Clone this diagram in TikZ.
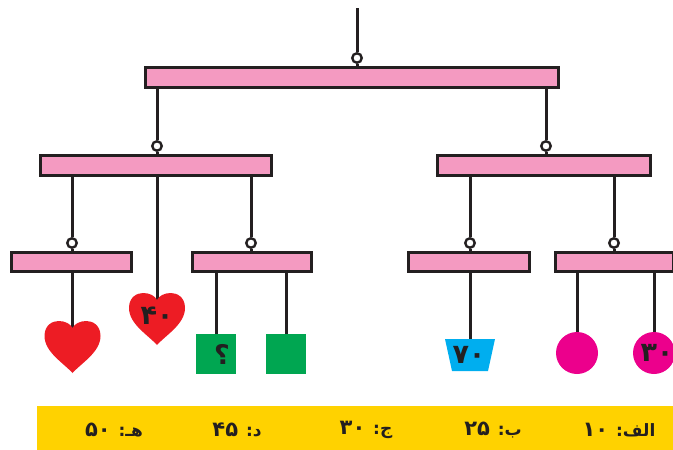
\documentclass[tikz,border=0pt]{standalone}
\usepackage{fontspec}
\TeXXeTstate=1
\newfontfamily\arabicfont[Script=Arabic]{DejaVu Sans}
\definecolor{ink}{HTML}{231F20}
\definecolor{barpink}{HTML}{F49AC1}
\definecolor{heartred}{HTML}{ED1C24}
\definecolor{boxgreen}{HTML}{00A651}
\definecolor{trapblue}{HTML}{00AEEF}
\definecolor{ballpink}{HTML}{EC008C}
\definecolor{stripyellow}{HTML}{FFD200}
\newcommand\bigdig[1]{{\fontsize{21}{24}\selectfont #1}}
\tikzset{
  heartpic/.pic={\fill[heartred] (0,45) .. controls (-9,35) and (-28,24) .. (-28,8)
      .. controls (-28,-3) and (-20,-7) .. (-14,-7)
      .. controls (-7,-7) and (-2,-4) .. (0,0)
      .. controls (2,-4) and (7,-7) .. (14,-7)
      .. controls (20,-7) and (28,-3) .. (28,8)
      .. controls (28,24) and (9,35) .. (0,45) -- cycle;}
}
\begin{document}
\begin{tikzpicture}[x=1pt,y=-1pt,
  bar/.style={rectangle, draw=ink, fill=barpink, line width=3pt, minimum height=19.5, inner sep=0pt},
  ring/.style={circle, draw=ink, fill=white, line width=2.4pt, minimum size=9.5, inner sep=0pt},
  str/.style={draw=ink, line width=3pt},
  sq/.style={rectangle, fill=boxgreen, minimum size=40, inner sep=0pt},
  ball/.style={circle, fill=ballpink, minimum size=42, inner sep=0pt},
  lbl/.style={font=\arabicfont\bfseries\fontsize{27}{30}\selectfont, text=ink, inner sep=0pt},
  blbl/.style={font=\arabicfont\bfseries\fontsize{17}{20}\selectfont, text=ink, inner sep=0pt}]
\useasboundingbox (0,0) rectangle (673,450);
% bottom strip
\fill[stripyellow] (37,406) rectangle (673,450);
% bars
\node[bar, minimum width=413] (B0) at (352,77.5) {};
\node[bar, minimum width=231] (B1) at (156,165.5) {};
\node[bar, minimum width=213] (B2) at (544,165.5) {};
\node[bar, minimum width=120] (B3) at (71.5,262) {};
\node[bar, minimum width=119] (B4) at (252,262) {};
\node[bar, minimum width=121] (B5) at (469,262) {};
\node[bar, minimum width=118] (B6) at (614.5,262) {};
% rings
\coordinate (top) at (357,8);
\node[ring] (R0) at (357,58) {};
\node[ring] (R1) at (157,146) {};
\node[ring] (R2) at (546,146) {};
\node[ring] (R3) at (72,243) {};
\node[ring] (R4) at (251,243) {};
\node[ring] (R5) at (470,243) {};
\node[ring] (R6) at (614,243) {};
% strings between bars
\draw[str] (top) -- (R0);
\draw[str] (R0) -- (R0 |- B0.north);
\draw[str] (B0.south -| R1) -- (R1);
\draw[str] (R1) -- (R1 |- B1.north);
\draw[str] (B0.south -| R2) -- (R2);
\draw[str] (R2) -- (R2 |- B2.north);
\draw[str] (B1.south -| R3) -- (R3);
\draw[str] (R3) -- (R3 |- B3.north);
\draw[str] (B1.south -| R4) -- (R4);
\draw[str] (R4) -- (R4 |- B4.north);
\draw[str] (B2.south -| R5) -- (R5);
\draw[str] (R5) -- (R5 |- B5.north);
\draw[str] (B2.south -| R6) -- (R6);
\draw[str] (R6) -- (R6 |- B6.north);
% leaves
\coordinate (hA) at (72.5,328);
\coordinate (hB) at (157,300);
\node[sq] (Q1) at (216,354) {};
\node[sq] (Q2) at (286,354) {};
\coordinate (T) at (470,339);
\node[ball] (C1) at (577,353) {};
\node[ball] (C2) at (654,353) {};
\draw[str] (B3.south -| hA) -- (hA);
\draw[str] (B1.south -| hB) -- (hB);
\draw[str] (B4.south -| Q1) -- (Q1.north);
\draw[str] (B4.south -| Q2) -- (Q2.north);
\draw[str] (B5.south -| T) -- (T);
\draw[str] (B6.south -| C1) -- (C1.north);
\draw[str] (B6.south -| C2) -- (C2.north);
\pic at (hA) {heartpic};
\pic at (hB) {heartpic};
\fill[trapblue] (445,339) -- (495,339) -- (488,371) -- (452,371) -- cycle;
% labels on shapes
\node[lbl] (L40) at (157,316) {\beginR ۴۰\endR};
\node[lbl] (Lq) at (222,354) {؟};
\node[lbl] (L70) at (469,355) {\beginR ۷۰\endR};
\node[lbl] (L30) at (657,353) {\beginR ۳۰\endR};
% bottom labels
\node[blbl] (a) at (619,430) {\beginR الف: \bigdig{۱۰}\endR};
\node[blbl] (b) at (493,430) {\beginR ب: \bigdig{۲۵}\endR};
\node[blbl] (c) at (366,430) {\beginR ج: \bigdig{۳۰}\endR};
\node[blbl] (d) at (237,430) {\beginR د: \bigdig{۴۵}\endR};
\node[blbl] (e) at (114,430) {\beginR هـ: \bigdig{۵۰}\endR};
\end{tikzpicture}
\end{document}
